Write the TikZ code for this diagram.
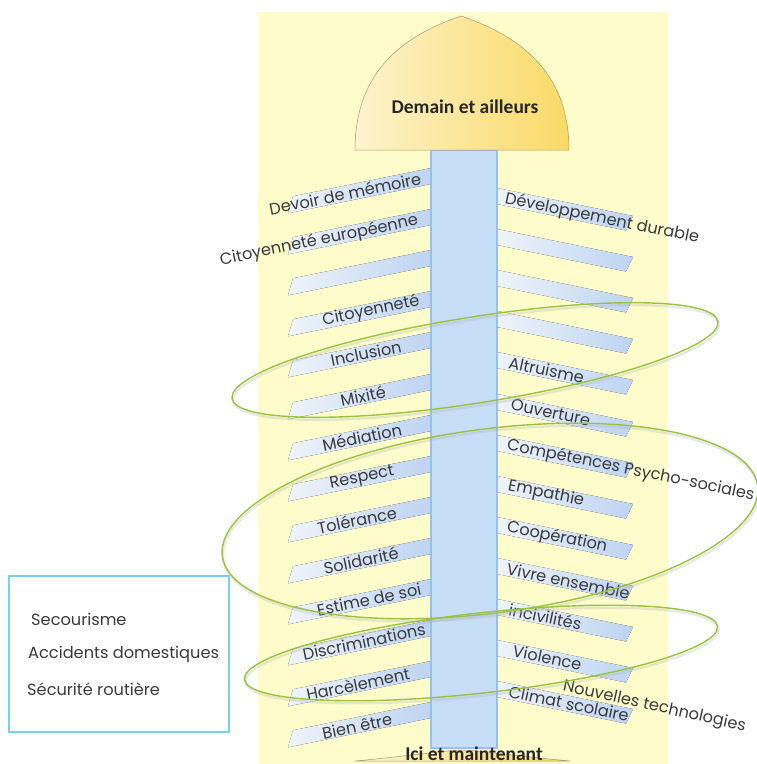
\documentclass[tikz,border=0pt]{standalone}
\usepackage{fontspec}
\setmainfont{Poppins}
\newfontfamily\titlefont{Carlito}
\usetikzlibrary{shapes.geometric, positioning, calc}
\definecolor{backyellow}{RGB}{255, 252, 204}
\definecolor{trunkblue}{RGB}{198, 222, 248}
\definecolor{trunkedge}{RGB}{150, 192, 238}
\definecolor{bandlight}{RGB}{238, 244, 250}
\definecolor{banddark}{RGB}{190, 212, 242}
\definecolor{domelight}{RGB}{253, 243, 205}
\definecolor{domegold}{RGB}{249, 218, 102}
\definecolor{domeedge}{RGB}{170, 150, 110}
\definecolor{ringgreen}{RGB}{150, 196, 60}
\definecolor{boxcyan}{RGB}{120, 208, 240}
\definecolor{labelgray}{RGB}{58, 58, 58}
\tikzstyle{band} = [left color=bandlight, right color=banddark]
\tikzstyle{trunk} = [fill=trunkblue, draw=trunkedge, line width=1.2pt]
\tikzstyle{dome} = [left color=domelight, right color=domegold, draw=domeedge, line width=0.5pt]
\tikzstyle{title} = [font=\titlefont\bfseries\fontsize{19.5}{22}\selectfont, text=black!85]
\tikzstyle{leftlabel} = [font=\fontsize{16.2}{18}\selectfont, text=labelgray, inner sep=0pt, rotate=11.6]
\tikzstyle{rightlabel} = [font=\fontsize{16.2}{18}\selectfont, text=labelgray, inner sep=0pt, anchor=west, rotate=-11.6]
\tikzstyle{boxlabel} = [font=\fontsize{16.2}{18}\selectfont, text=labelgray, inner sep=0pt, anchor=west]
\tikzstyle{ring} = [draw=ringgreen, line width=1.4pt]
\tikzstyle{ringshadow} = [draw=black!30, line width=2.4pt, opacity=0.3]

\begin{document}
\begin{tikzpicture}[x=1pt, y=-1pt]
\useasboundingbox (0,0) rectangle (757,764);

% Background
\fill[backyellow] (258,12) rectangle (668,764);

% Left branches
\fill[band] (431,168) -- ++(0,16) -- ++(-143,29.3) -- ++(5,-17) -- cycle;
\fill[band] (431,209) -- ++(0,16) -- ++(-143,29.3) -- ++(5,-17) -- cycle;
\fill[band] (431,250) -- ++(0,16) -- ++(-143,29.3) -- ++(5,-17) -- cycle;
\fill[band] (431,291) -- ++(0,16) -- ++(-143,29.3) -- ++(5,-17) -- cycle;
\fill[band] (431,332) -- ++(0,16) -- ++(-143,29.3) -- ++(5,-17) -- cycle;
\fill[band] (431,374) -- ++(0,16) -- ++(-143,29.3) -- ++(5,-17) -- cycle;
\fill[band] (431,415) -- ++(0,16) -- ++(-143,29.3) -- ++(5,-17) -- cycle;
\fill[band] (431,456) -- ++(0,16) -- ++(-143,29.3) -- ++(5,-17) -- cycle;
\fill[band] (431,497) -- ++(0,16) -- ++(-143,29.3) -- ++(5,-17) -- cycle;
\fill[band] (431,538) -- ++(0,16) -- ++(-143,29.3) -- ++(5,-17) -- cycle;
\fill[band] (431,579) -- ++(0,16) -- ++(-143,29.3) -- ++(5,-17) -- cycle;
\fill[band] (431,620) -- ++(0,16) -- ++(-143,29.3) -- ++(5,-17) -- cycle;
\fill[band] (431,661) -- ++(0,16) -- ++(-143,29.3) -- ++(5,-17) -- cycle;
\fill[band] (431,702) -- ++(0,16) -- ++(-143,29.3) -- ++(5,-17) -- cycle;

% Right branches
\fill[band] (497,188) -- ++(136,28) -- ++(-7,14.5) -- ++(-129,-26.5) -- cycle;
\fill[band] (497,229) -- ++(136,28) -- ++(-7,14.5) -- ++(-129,-26.5) -- cycle;
\fill[band] (497,270) -- ++(136,28) -- ++(-7,14.5) -- ++(-129,-26.5) -- cycle;
\fill[band] (497,311) -- ++(136,28) -- ++(-7,14.5) -- ++(-129,-26.5) -- cycle;
\fill[band] (497,352) -- ++(136,28) -- ++(-7,14.5) -- ++(-129,-26.5) -- cycle;
\fill[band] (497,394) -- ++(136,28) -- ++(-7,14.5) -- ++(-129,-26.5) -- cycle;
\fill[band] (497,435) -- ++(136,28) -- ++(-7,14.5) -- ++(-129,-26.5) -- cycle;
\fill[band] (497,476) -- ++(136,28) -- ++(-7,14.5) -- ++(-129,-26.5) -- cycle;
\fill[band] (497,517) -- ++(136,28) -- ++(-7,14.5) -- ++(-129,-26.5) -- cycle;
\fill[band] (497,558) -- ++(136,28) -- ++(-7,14.5) -- ++(-129,-26.5) -- cycle;
\fill[band] (497,599) -- ++(136,28) -- ++(-7,14.5) -- ++(-129,-26.5) -- cycle;
\fill[band] (497,640) -- ++(136,28) -- ++(-7,14.5) -- ++(-129,-26.5) -- cycle;
\fill[band] (497,681) -- ++(136,28) -- ++(-7,14.5) -- ++(-129,-26.5) -- cycle;

% Trunk and ends
\draw[trunk] (431,150) rectangle (497,748);
\draw[dome] (355,150) .. controls (355,70) and (405,35) .. (461,16) .. controls (517,35) and (569,70) .. (569,150) -- cycle;
\draw[dome] (355,761) .. controls (400,757) and (440,751) .. (462,750) .. controls (485,751) and (525,757) .. (570,761) -- cycle;
\node (demain) [title] at (465,107) {Demain et ailleurs};
\node (ici) [title] at (474,753.5) {Ici et maintenant};

% Left labels
\node (memoire) [leftlabel] at (345,193.6) {Devoir de mémoire};
\node (europe) [leftlabel] at (319,241) {Citoyenneté européenne};
\node (citoyen) [leftlabel] at (371,311.3) {Citoyenneté};
\node (inclusion) [leftlabel] at (366,353.3) {Inclusion};
\node (mixite) [leftlabel] at (363,395.9) {Mixité};
\node (mediation) [leftlabel] at (362,437.1) {Médiation};
\node (respect) [leftlabel] at (362,478.1) {Respect};
\node (tolerance) [leftlabel] at (357,520.2) {Tolérance};
\node (solidarite) [leftlabel] at (361,560.4) {Solidarité};
\node (estime) [leftlabel] at (369,599.7) {Estime de soi};
\node (discrim) [leftlabel] at (364,641.7) {Discriminations};
\node (harcel) [leftlabel] at (358,684) {Harcèlement};
\node (bienetre) [leftlabel] at (357,726) {Bien être};

% Right labels
\node (durable) [rightlabel] at (505,199) {Développement durable};
\node (altruisme) [rightlabel] at (509,362.3) {Altruisme};
\node (ouverture) [rightlabel] at (511,404.3) {Ouverture};
\node (cps) [rightlabel] at (507,445.3) {Compétences Psycho-sociales};
\node (empathie) [rightlabel] at (508,486.3) {Empathie};
\node (cooperation) [rightlabel] at (507,527.3) {Coopération};
\node (ensemble) [rightlabel] at (507,568.3) {Vivre ensemble};
\node (incivil) [rightlabel] at (509,609.3) {incivilités};
\node (violence) [rightlabel] at (513,650.3) {Violence};
\node (climat) [rightlabel] at (509,691.3) {Climat scolaire};
\node (technos) [rightlabel, rotate=-0.8] at (563,687) {Nouvelles technologies};

% Rings
\draw[ringshadow, rotate around={9:(476,362.5)}] (476,362.5) ellipse [x radius=246pt, y radius=43pt];
\draw[ring, rotate around={9:(475,360)}] (475,360) ellipse [x radius=246pt, y radius=43pt];
\draw[ringshadow, rotate around={7.5:(491,523.5)}] (491,523.5) ellipse [x radius=270pt, y radius=92pt];
\draw[ring, rotate around={7.5:(490,521)}] (490,521) ellipse [x radius=270pt, y radius=92pt];
\draw[ringshadow, rotate around={6.4:(482,655.5)}] (482,655.5) ellipse [x radius=238pt, y radius=40pt];
\draw[ring, rotate around={6.4:(481,653)}] (481,653) ellipse [x radius=238pt, y radius=40pt];

% Safety box
\draw[boxcyan, line width=1.2pt] (9,576) rectangle (229,732);
\node (secours) [boxlabel] at (31,619) {Secourisme};
\node (accidents) [boxlabel] at (28,654) {Accidents domestiques};
\node (routiere) [boxlabel] at (27,689) {Sécurité routière};

\end{tikzpicture}
\end{document}
